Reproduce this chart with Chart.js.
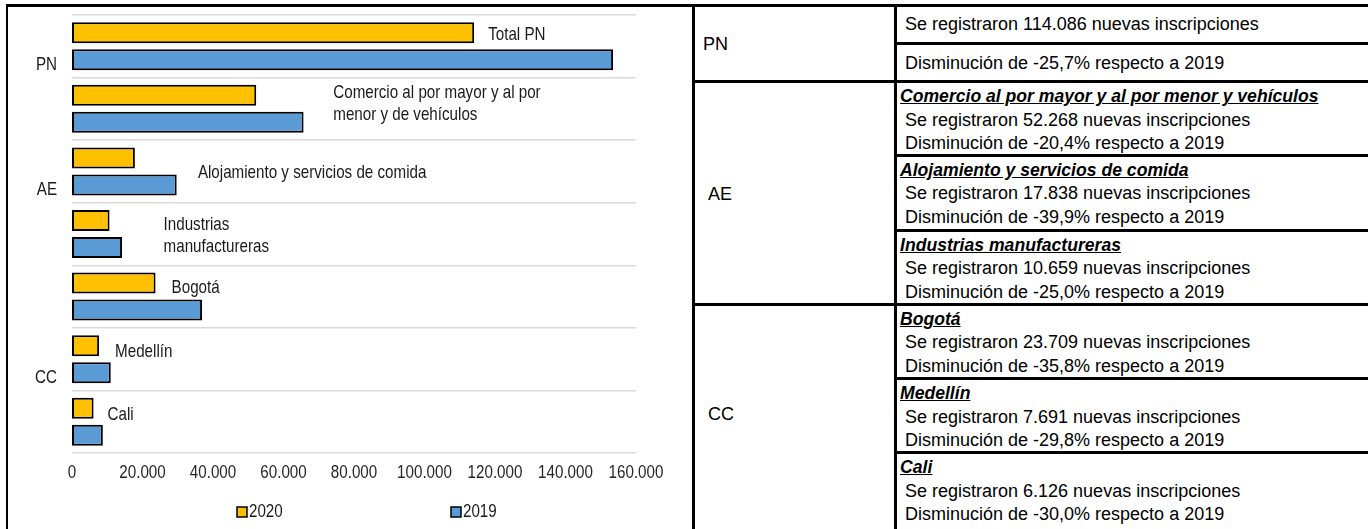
<!DOCTYPE html>
<html lang="es">
<head>
<meta charset="utf-8">
<title>Nuevas inscripciones 2020 frente a 2019</title>
<script src="https://cdn.jsdelivr.net/npm/chart.js@4.4.1/dist/chart.umd.min.js"></script>
<style>
  html, body { margin: 0; padding: 0; background: #fff; }
  body { width: 1368px; height: 529px; position: relative; overflow: hidden;
         font-family: "Liberation Sans", Arial, sans-serif; color: #000; }
  .hl { position: absolute; height: 3px; background: #000; }
  .vl { position: absolute; width: 3px; background: #000; }
  #grafico { position: absolute; left: 8px; top: 7px; width: 684px; height: 522px; }
  .txt { position: absolute; font-size: 18px; line-height: 23.5px; white-space: nowrap; }
  .tit { font-weight: bold; font-style: italic; text-decoration: underline; font-size: 17.6px; }
</style>
</head>
<body>
<div id="tabla"></div>
<div id="grafico"><canvas id="c"></canvas></div>
<script>
// --- datos ---
const categorias = ['Total PN', 'Comercio al por mayor y al por menor y vehículos',
  'Alojamiento y servicios de comida', 'Industrias manufactureras', 'Bogotá', 'Medellín', 'Cali'];
const etiquetasGrafico = [['Total PN'], ['Comercio al por mayor y al por', 'menor y de vehículos'],
  ['Alojamiento y servicios de comida'], ['Industrias', 'manufactureras'], ['Bogotá'], ['Medellín'], ['Cali']];
const grupos = ['PN', 'AE', 'AE', 'AE', 'CC', 'CC', 'CC'];
const valores2020 = [114086, 52268, 17838, 10659, 23709, 7691, 6126];
const valores2019 = [153500, 65700, 29700, 14200, 36900, 11000, 8750];
const variacion = ['-25,7', '-20,4', '-39,9', '-25,0', '-35,8', '-29,8', '-30,0'];
const series = ['2020', '2019'];

// --- posiciones de texto (px) ---
const etiquetaDx = [14, 77, 63, 54, 16, 16, 14];
const etiquetaDy = [-11, -4.5, 1.5, 2, -8.5, -7, -6.5];
const leyendaPos = [0.2926, 0.672];
const lineasY = [5, 43.3, 81.7, 155, 230, 304, 378.3, 452.3];

const fmt = n => String(n).replace(/\B(?=(\d{3})+(?!\d))/g, '.');

// letra estrecha (tipo Arial Narrow) simulada con escala horizontal
const FUENTE = '18.5px "Liberation Sans", Arial, sans-serif';
const ESTRECHO = 0.82;
function textoEstrecho(ctx, t, x, y) {
  ctx.save();
  ctx.translate(x, y);
  ctx.scale(ESTRECHO, 1);
  ctx.fillText(t, 0, 0);
  ctx.restore();
}

// --- tabla de la derecha ---
const tabla = document.getElementById('tabla');
const caja = (cls, css) => {
  const d = document.createElement('div');
  d.className = cls;
  Object.assign(d.style, css);
  tabla.appendChild(d);
  return d;
};
const X0 = 692, X1 = 894, XF = 1368;
caja('hl', { left: '6px', top: '4px', width: (XF - 6) + 'px' });
caja('vl', { left: '6px', top: '4px', width: '2px', height: '530px' });
caja('vl', { left: X0 + 'px', top: '4px', height: '530px' });
caja('vl', { left: X1 + 'px', top: '4px', height: '530px' });
lineasY.slice(1).forEach((y, i) => {
  const completa = (i === 1 || i === 4);
  const x = completa ? X0 : X1;
  caja('hl', { left: x + 'px', top: Math.round(y - 1.5) + 'px', width: (XF - x) + 'px' });
});

const texto = (html, left, cy) => {
  const d = caja('txt', { left: left + 'px', top: (cy - 11.75) + 'px' });
  d.innerHTML = html;
  return d;
};
// etiquetas de grupo
texto('PN', 703, (lineasY[0] + lineasY[2]) / 2 + 1);
texto('AE', 708, (lineasY[2] + lineasY[5]) / 2 + 2);
texto('CC', 708, (lineasY[5] + 526) / 2);
// fila PN
texto(`Se registraron ${fmt(valores2020[0])} nuevas inscripciones`, 905, (lineasY[0] + lineasY[1]) / 2 + 1);
texto(`Disminución de ${variacion[0]}% respecto a 2019`, 905, (lineasY[1] + lineasY[2]) / 2 + 1);
// bloques AE y CC
for (let i = 1; i < categorias.length; i++) {
  const top = lineasY[i + 1];
  texto(`<span class="tit">${categorias[i]}</span>`, 900, top + 15.5);
  texto(`Se registraron ${fmt(valores2020[i])} nuevas inscripciones`, 905, top + 39);
  texto(`Disminución de ${variacion[i]}% respecto a 2019`, 905, top + 62.5);
}

// --- gráfico ---
const etiquetasPlugin = {
  id: 'etiquetas',
  afterDatasetsDraw(chart) {
    const { ctx, chartArea, scales: { x, y } } = chart;
    const m20 = chart.getDatasetMeta(0), m19 = chart.getDatasetMeta(1);
    const interlinea = 22;
    ctx.save();
    ctx.font = FUENTE;
    ctx.textBaseline = 'middle';

    // marcas del eje x
    ctx.fillStyle = '#262626';
    ctx.textAlign = 'center';
    x.ticks.forEach(t => textoEstrecho(ctx, fmt(t.value), x.getPixelForValue(t.value), chartArea.bottom + 20));

    // nombres de las barras
    ctx.fillStyle = '#1a1a1a';
    ctx.textAlign = 'left';
    etiquetasGrafico.forEach((lineas, i) => {
      const x0 = m20.data[i].x + etiquetaDx[i];
      const y0 = y.getPixelForValue(i) + etiquetaDy[i] - (lineas.length - 1) * interlinea / 2;
      lineas.forEach((t, k) => textoEstrecho(ctx, t, x0, y0 + k * interlinea));
    });

    // grupos del eje
    ctx.textAlign = 'right';
    [...new Set(grupos)].forEach(g => {
      const idx = grupos.map((v, i) => v === g ? i : -1).filter(i => i >= 0);
      const medio = idx[Math.floor(idx.length / 2)];
      textoEstrecho(ctx, g, chartArea.left - 15, m19.data[medio].y + 5);
    });

    // leyenda
    ctx.textAlign = 'left';
    chart.data.datasets.forEach((ds, i) => {
      const lx = Math.round(chartArea.left + chartArea.width * leyendaPos[i]);
      const ly = chart.height - 17;
      ctx.fillStyle = ds.backgroundColor;
      ctx.fillRect(lx, ly - 5, 10, 10);
      ctx.strokeStyle = '#000';
      ctx.lineWidth = 1.5;
      ctx.strokeRect(lx, ly - 5, 10, 10);
      ctx.fillStyle = '#1a1a1a';
      textoEstrecho(ctx, ds.label, lx + 12, ly);
    });
    ctx.restore();
  }
};

new Chart(document.getElementById('c'), {
  type: 'bar',
  data: {
    labels: categorias,
    datasets: [
      { label: series[0], data: valores2020, backgroundColor: '#FFC000' },
      { label: series[1], data: valores2019, backgroundColor: '#5B9BD5' }
    ]
  },
  options: {
    indexAxis: 'y',
    responsive: true,
    maintainAspectRatio: false,
    animation: false,
    datasets: {
      bar: { borderColor: '#000', borderWidth: 2, borderSkipped: false,
             categoryPercentage: 0.863, barPercentage: 0.778 }
    },
    layout: { padding: { left: 64, right: 56, top: 8, bottom: 76 } },
    plugins: { legend: { display: false }, tooltip: { enabled: false } },
    scales: {
      x: {
        min: 0, max: 160000,
        ticks: { stepSize: 20000, display: false },
        grid: { display: false, drawTicks: false },
        border: { display: false }
      },
      y: {
        ticks: { display: false },
        grid: { offset: true, color: '#d9d9d9', lineWidth: 1.5, drawTicks: false },
        border: { display: false }
      }
    }
  },
  plugins: [etiquetasPlugin]
});
</script>
</body>
</html>
